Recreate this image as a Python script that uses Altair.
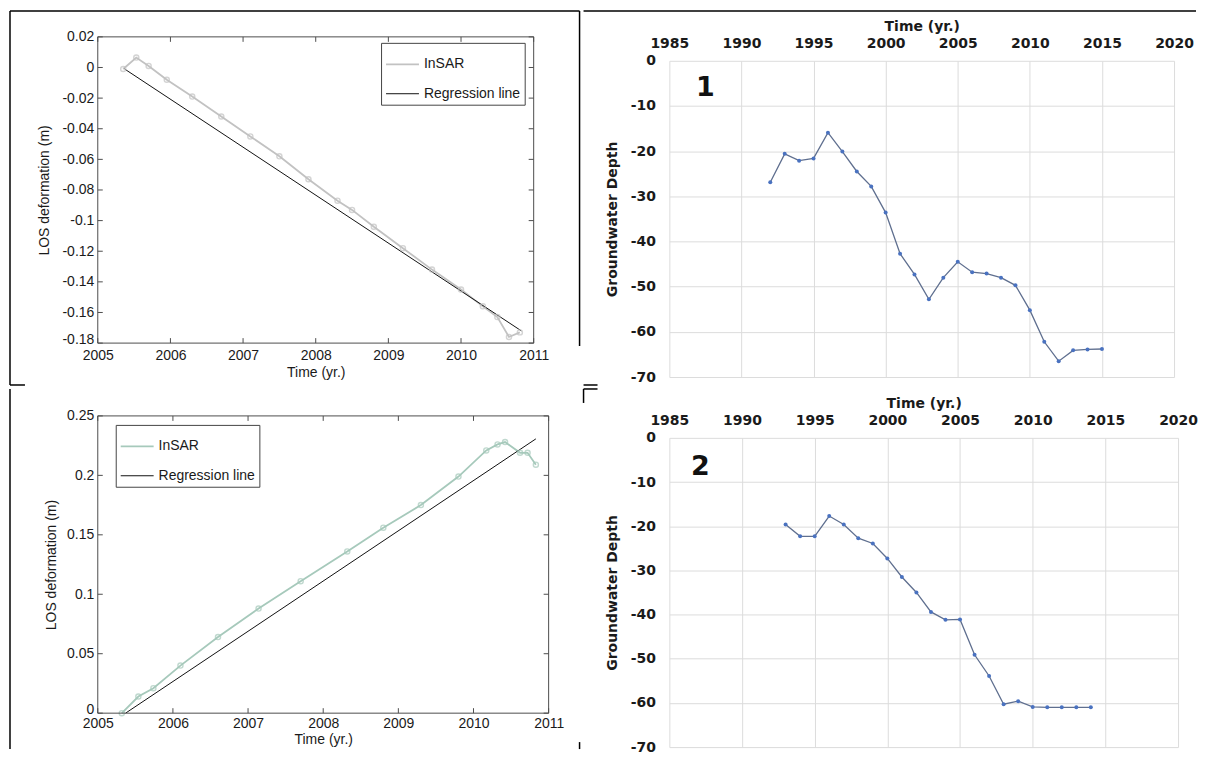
import altair as alt
import pandas as pd

# ---------------- data ----------------
legend_labels = ["InSAR", "Regression line"]
panel_labels = ["1", "2"]

los_xticks = [2005, 2006, 2007, 2008, 2009, 2010, 2011]
los1_yticks = [0.02, 0, -0.02, -0.04, -0.06, -0.08, -0.1, -0.12, -0.14, -0.16, -0.18]
los3_yticks = [0, 0.05, 0.1, 0.15, 0.2, 0.25]
los_xtitle = "Time (yr.)"
los_ytitle = "LOS deformation (m)"

insar1_t = [2005.35, 2005.53, 2005.70, 2005.95, 2006.30, 2006.70, 2007.10, 2007.50, 2007.90,
            2008.30, 2008.50, 2008.80, 2009.20, 2009.60, 2010.00, 2010.30, 2010.50, 2010.66, 2010.81]
insar1_v = [-0.001, 0.0065, 0.001, -0.008, -0.019, -0.032, -0.045, -0.058, -0.073,
            -0.087, -0.093, -0.104, -0.118, -0.132, -0.145, -0.156, -0.163, -0.176, -0.173]
reg1_t = [2005.37, 2010.83]
reg1_v = [-0.001, -0.172]

insar3_t = [2005.32, 2005.54, 2005.74, 2006.10, 2006.60, 2007.14, 2007.70, 2008.32, 2008.80,
            2009.30, 2009.80, 2010.17, 2010.32, 2010.42, 2010.62, 2010.72, 2010.83]
insar3_v = [0.0, 0.014, 0.021, 0.040, 0.064, 0.088, 0.111, 0.136, 0.156,
            0.175, 0.199, 0.221, 0.226, 0.228, 0.219, 0.219, 0.209]
reg3_t = [2005.37, 2010.83]
reg3_v = [0.0, 0.2307]

gw_xticks = [1985, 1990, 1995, 2000, 2005, 2010, 2015, 2020]
gw_yticks = [0, -10, -20, -30, -40, -50, -60, -70]
gw_xtitle = "Time (yr.)"
gw_ytitle = "Groundwater Depth"

gw1_year = [1992, 1993, 1994, 1995, 1996, 1997, 1998, 1999, 2000, 2001, 2002, 2003,
            2004, 2005, 2006, 2007, 2008, 2009, 2010, 2011, 2012, 2013, 2014, 2015]
gw1_depth = [-26.9, -20.6, -22.1, -21.6, -15.9, -20.1, -24.5, -27.8, -33.6, -42.7, -47.3, -52.8,
             -48.0, -44.5, -46.8, -47.1, -48.0, -49.7, -55.2, -62.2, -66.5, -64.1, -63.9, -63.8]

gw2_year = [1993, 1994, 1995, 1996, 1997, 1998, 1999, 2000, 2001, 2002, 2003,
            2004, 2005, 2006, 2007, 2008, 2009, 2010, 2011, 2012, 2013, 2014]
gw2_depth = [-19.6, -22.3, -22.3, -17.7, -19.6, -22.7, -23.9, -27.3, -31.5, -35.0, -39.4,
             -41.2, -41.1, -49.1, -53.9, -60.3, -59.6, -60.9, -61.0, -61.0, -61.0, -61.0]

# ---------------- styles ----------------
FONT_M = "Liberation Sans"
FONT_E = "DejaVu Sans"
BOX = "#4d4d4d"
TXT = "#1a1a1a"
GW_LINE = "#5f6f8f"
GW_PT = "#4a72c0"

one = pd.DataFrame({"k": [0]})


def vrule(x, y1, y2, w=1.5, color="black"):
    return alt.Chart(one).mark_rule(color=color, strokeWidth=w).encode(
        x=alt.value(x), y=alt.value(y1), y2=alt.value(y2))


def hrule(y, x1, x2, w=1.5, color="black"):
    return alt.Chart(one).mark_rule(color=color, strokeWidth=w).encode(
        y=alt.value(y), x=alt.value(x1), x2=alt.value(x2))


def los_panel(ins_t, ins_v, reg_t, reg_v, yticks, W, H, top, ins_color, leg_x, leg_y,
              y_title_pad, lab_pad, title_pad, borders):
    # plot box spans y from `top` (<=0) to H relative to the view origin
    xs = alt.Scale(domain=[los_xticks[0], los_xticks[-1]], nice=False, zero=False)
    ys = alt.Scale(domain=[min(yticks), max(yticks)], range=[H, top], nice=False, zero=False)
    df = pd.DataFrame({
        "t": ins_t + reg_t,
        "v": ins_v + reg_v,
        "s": [legend_labels[0]] * len(ins_t) + [legend_labels[1]] * len(reg_t),
    })
    ymin = min(yticks)
    xaxis = alt.Axis(values=los_xticks, format="d", title=los_xtitle,
                     labelFont=FONT_M, labelFontSize=14, labelColor=TXT,
                     titleFont=FONT_M, titleFontSize=14, titleFontWeight="normal", titleColor=TXT,
                     ticks=False, domain=False, grid=False, labelPadding=lab_pad,
                     titlePadding=title_pad, labelFlush=False, labelOverlap=False)
    yaxis = alt.Axis(values=yticks, labelExpr="toString(datum.value)", title=los_ytitle,
                     labelFont=FONT_M, labelFontSize=14, labelColor=TXT,
                     labelBaseline={"condition": {"test": f"datum.value <= {ymin}", "value": "alphabetic"},
                                    "value": "middle"},
                     titleFont=FONT_M, titleFontSize=14, titleFontWeight="normal", titleColor=TXT,
                     ticks=False, domain=False, grid=False, labelPadding=4,
                     titlePadding=y_title_pad, labelFlush=False, labelOverlap=False)
    X = alt.X("t:Q", scale=xs, axis=xaxis)
    Y = alt.Y("v:Q", scale=ys, axis=yaxis)
    lines = alt.Chart(df).mark_line().encode(
        x=X, y=Y,
        color=alt.Color("s:N", scale=alt.Scale(domain=legend_labels, range=[ins_color, "#111111"]),
                        legend=alt.Legend(title=None, orient="none", legendX=leg_x, legendY=leg_y,
                                          direction="vertical", symbolType="stroke", symbolSize=1089,
                                          symbolStrokeWidth=1.3, labelFont=FONT_M, labelFontSize=14,
                                          labelColor=TXT, strokeColor="#444444", fillColor="white",
                                          padding=4, rowPadding=5, labelOffset=4, labelLimit=0)),
        strokeWidth=alt.StrokeWidth("s:N", scale=alt.Scale(domain=legend_labels, range=[1.8, 1.0]),
                                    legend=None),
    )
    pts = alt.Chart(pd.DataFrame({"t": ins_t, "v": ins_v})).mark_point(
        shape="circle", size=26, filled=False, color=ins_color, strokeWidth=1.4).encode(x=X, y=Y)
    txdf = pd.DataFrame({"t": los_xticks})
    tydf = pd.DataFrame({"v": yticks})
    tb = alt.Chart(txdf).mark_rule(color=BOX, strokeWidth=1).encode(
        x=X, y=alt.value(H), y2=alt.value(H - 5))
    tt = alt.Chart(txdf).mark_rule(color=BOX, strokeWidth=1).encode(
        x=X, y=alt.value(top), y2=alt.value(top + 5))
    tl = alt.Chart(tydf).mark_rule(color=BOX, strokeWidth=1).encode(
        y=Y, x=alt.value(0), x2=alt.value(5))
    tr = alt.Chart(tydf).mark_rule(color=BOX, strokeWidth=1).encode(
        y=Y, x=alt.value(W), x2=alt.value(W - 5))
    box = [hrule(top, 0, W, 1, BOX), hrule(H, 0, W, 1, BOX),
           vrule(0, top, H, 1, BOX), vrule(W, top, H, 1, BOX)]
    return alt.layer(lines, pts, tb, tt, tl, tr, *box, *borders).properties(width=W, height=H)


def gw_panel(years, depth, W, H, label, lx, ly, borders):
    xs = alt.Scale(domain=[gw_xticks[0], gw_xticks[-1]], nice=False, zero=False)
    ys = alt.Scale(domain=[gw_yticks[-1], gw_yticks[0]], nice=False, zero=False)
    df = pd.DataFrame({"yr": years, "d": depth})
    xaxis = alt.Axis(orient="top", values=gw_xticks, format="d", title=gw_xtitle,
                     labelFont=FONT_E, labelFontWeight="bold", labelFontSize=14, labelColor=TXT,
                     titleFont=FONT_E, titleFontWeight="bold", titleFontSize=14, titleColor=TXT,
                     domain=False, ticks=False, grid=True, gridColor="#dcdcdc", gridWidth=1,
                     labelPadding=10, titlePadding=3, labelFlush=False, labelOverlap=False)
    yaxis = alt.Axis(values=gw_yticks, labelExpr="toString(datum.value)", title=gw_ytitle,
                     labelFont=FONT_E, labelFontWeight="bold", labelFontSize=14, labelColor=TXT,
                     titleFont=FONT_E, titleFontWeight="bold", titleFontSize=14, titleColor=TXT,
                     domain=False, ticks=False, grid=True, gridColor="#dcdcdc", gridWidth=1,
                     labelPadding=14, titlePadding=11, labelFlush=False, labelOverlap=False)
    X = alt.X("yr:Q", scale=xs, axis=xaxis)
    Y = alt.Y("d:Q", scale=ys, axis=yaxis)
    line = alt.Chart(df).mark_line(color=GW_LINE, strokeWidth=1.3).encode(x=X, y=Y)
    pts = alt.Chart(df).mark_circle(color=GW_PT, size=16, opacity=1).encode(x=X, y=Y)
    lab = alt.Chart(pd.DataFrame({"l": [label]})).mark_text(
        font=FONT_E, fontWeight="bold", fontSize=27, color="#111111").encode(
        x=alt.value(lx), y=alt.value(ly), text="l:N")
    return alt.layer(line, pts, lab, *borders).properties(width=W, height=H)


# top row origins are shared; panel 1 box drawn from y=-24 above its origin
p1 = los_panel(insar1_t, insar1_v, reg1_t, reg1_v, los1_yticks, 437, 283, -24, "#c2c2c2", 284, -18,
               10, 5, 3,
               [vrule(-88, -50, 325), hrule(-50, -88, 483), vrule(483, -50, 286), hrule(325, -88, -73)])
p3 = los_panel(insar3_t, insar3_v, reg3_t, reg3_v, los3_yticks, 452, 298, 0, "#a6c9bb", 18, 9,
               8, 3, 2,
               [vrule(-88, -27, 334), vrule(483, 327, 334)])

p2 = gw_panel(gw1_year, gw1_depth, 506, 317, panel_labels[0], 36, 27,
              [hrule(-50, -86, 528), hrule(325, -86, -72)])
p4 = gw_panel(gw2_year, gw2_depth, 510, 310, panel_labels[1], 31, 29,
              [vrule(-86, -49, -35), hrule(-49, -86, -72)])

left = alt.vconcat(p1, p3, spacing=0).resolve_scale(
    color="independent", strokeWidth="independent").resolve_legend(color="independent")
right = alt.vconcat(p2, p4, spacing=0)

chart = alt.hconcat(left, right, spacing=0).resolve_scale(
    color="independent", strokeWidth="independent").resolve_legend(
    color="independent").properties(padding=0, background="white").configure_view(
    stroke="transparent")

chart.save("out.html", embed_options={"renderer": "svg", "actions": False})
